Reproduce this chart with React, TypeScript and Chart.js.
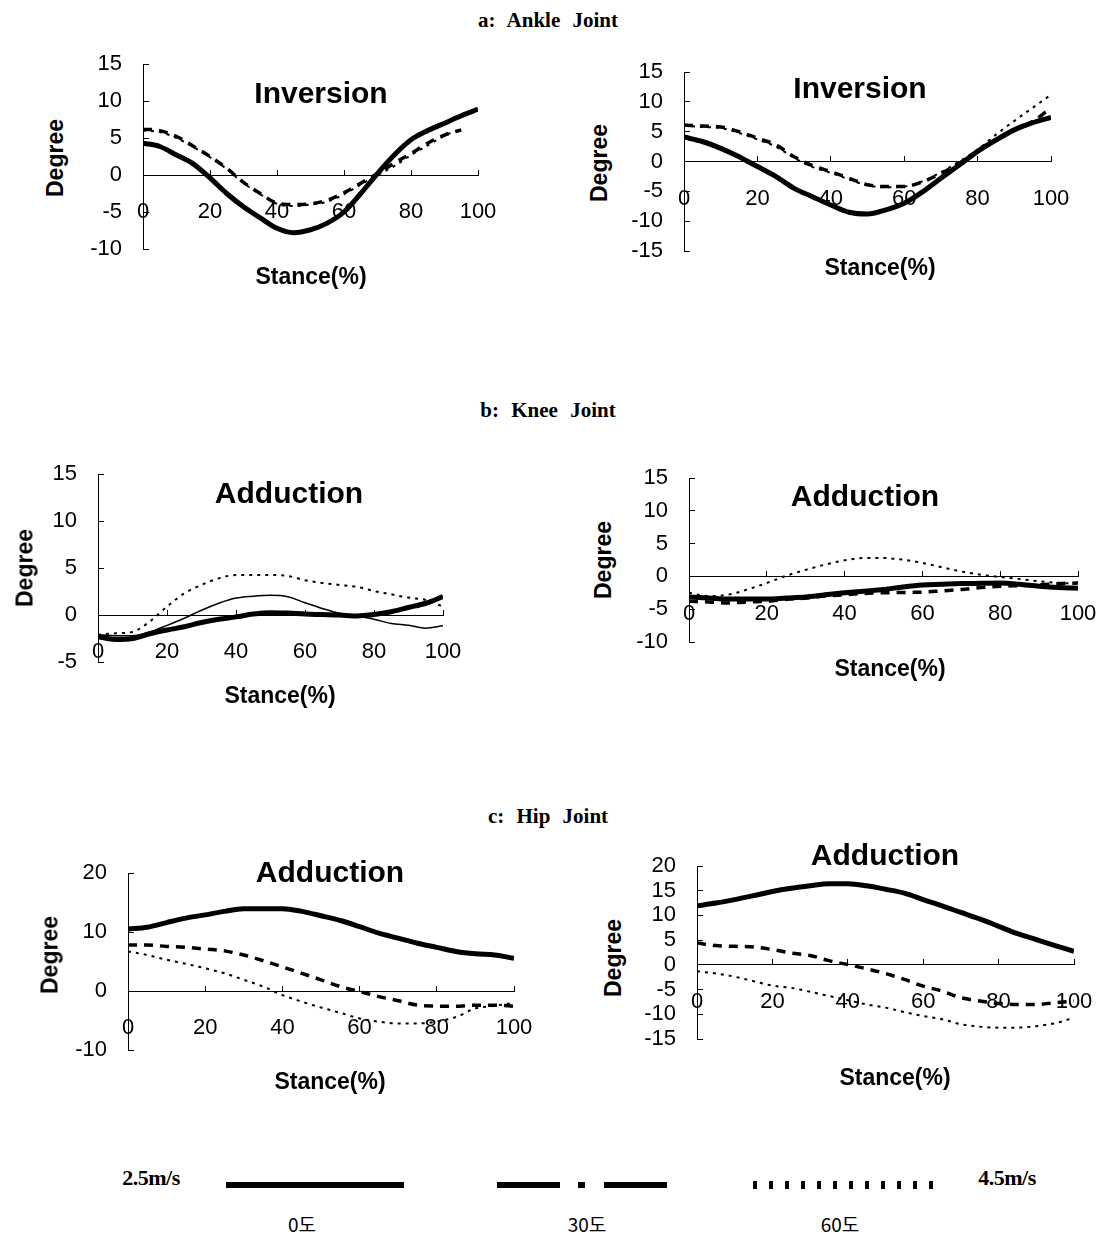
import React, { useEffect, useRef } from "react";
import { Chart, registerables } from "chart.js";

Chart.register(...registerables);

// ---------- data ----------
const STANCE = [0, 5, 10, 15, 20, 25, 30, 35, 40, 45, 50, 55, 60, 65, 70, 75, 80, 85, 90, 95, 100];
const X_TICKS = [0, 20, 40, 60, 80, 100];

const ANKLE_25_DEG0 = [4.3, 3.85, 2.7, 1.5, -0.4, -2.5, -4.3, -5.8, -7.2, -7.8, -7.4, -6.5, -5.0, -2.5, 0.2, 2.7, 4.75, 6.0, 7.0, 8.0, 8.9];
const ANKLE_25_DEG30 = [6.2, 6.0, 5.2, 3.9, 2.5, 0.9, -1.0, -2.5, -3.8, -4.0, -3.9, -3.4, -2.4, -1.1, 0.2, 1.6, 2.9, 4.3, 5.4, 6.1, null];
const ANKLE_25_DEG60 = [6.0, 5.8, 5.0, 3.8, 2.4, 0.8, -1.1, -2.6, -3.9, -4.2, -4.0, -3.6, -2.6, -1.3, 0.0, 1.2, 2.7, 4.0, 5.3, 6.2, null];

const ANKLE_45_DEG0 = [4.1, 3.35, 2.2, 0.8, -0.85, -2.5, -4.5, -5.9, -7.3, -8.5, -8.8, -8.1, -7.0, -5.1, -2.8, -0.6, 1.7, 3.6, 5.3, 6.5, 7.4];
const ANKLE_45_DEG30 = [6.1, 5.95, 5.8, 5.0, 3.9, 2.8, 0.8, -0.7, -1.7, -2.8, -3.9, -4.2, -4.2, -3.4, -2.0, -0.3, 1.7, 3.6, 5.3, 6.7, 9.0];
const ANKLE_45_DEG60 = [6.0, 5.8, 5.6, 4.8, 3.7, 2.5, 0.6, -0.9, -1.9, -3.0, -4.0, -4.3, -4.2, -3.3, -1.8, 0.0, 2.0, 4.5, 6.8, 9.0, 11.2];

const KNEE_25_DEG0 = [-2.3, -2.6, -2.5, -2.0, -1.6, -1.25, -0.8, -0.45, -0.2, 0.1, 0.25, 0.2, 0.1, 0.05, 0.0, -0.1, 0.05, 0.35, 0.8, 1.25, 1.95];
const KNEE_25_DEG30 = [-2.1, -2.2, -2.2, -1.8, -1.1, -0.35, 0.5, 1.25, 1.8, 2.0, 2.1, 1.95, 1.3, 0.7, 0.2, -0.1, -0.45, -0.9, -1.1, -1.4, -1.15];
const KNEE_25_DEG60 = [-2.1, -1.95, -1.8, -0.7, 0.9, 2.3, 3.2, 3.9, 4.25, 4.25, 4.25, 4.15, 3.7, 3.4, 3.2, 3.0, 2.55, 2.2, 1.85, 1.6, 0.9];

const KNEE_45_DEG0 = [-3.15, -3.3, -3.45, -3.45, -3.45, -3.3, -3.15, -2.8, -2.5, -2.25, -2.0, -1.6, -1.3, -1.2, -1.1, -1.05, -1.0, -1.2, -1.5, -1.7, -1.8];
const KNEE_45_DEG30 = [-3.8, -3.9, -4.05, -3.9, -3.8, -3.5, -3.3, -3.0, -2.8, -2.6, -2.5, -2.45, -2.4, -2.2, -2.0, -1.7, -1.5, -1.4, -1.3, -1.1, -1.0];
const KNEE_45_DEG60 = [-2.5, -3.0, -2.8, -2.0, -1.0, 0.1, 1.0, 1.8, 2.45, 2.8, 2.8, 2.55, 2.05, 1.4, 0.75, 0.25, -0.1, -0.4, -0.75, -1.0, -1.1];

const HIP_25_DEG0 = [10.5, 10.8, 11.6, 12.35, 12.9, 13.5, 13.95, 13.95, 13.95, 13.5, 12.75, 11.95, 10.9, 9.8, 8.95, 8.1, 7.4, 6.7, 6.3, 6.1, 5.55];
const HIP_25_DEG30 = [7.8, 7.8, 7.55, 7.4, 7.1, 6.8, 6.1, 5.15, 4.1, 3.0, 1.9, 0.75, -0.1, -0.95, -1.65, -2.4, -2.55, -2.6, -2.4, -2.4, -2.6];
const HIP_25_DEG60 = [6.7, 6.1, 5.3, 4.6, 3.85, 3.0, 1.9, 0.75, -0.7, -1.8, -2.8, -3.7, -4.65, -5.2, -5.5, -5.5, -5.2, -4.4, -2.95, -2.5, -2.0];

const HIP_45_DEG0 = [11.95, 12.5, 13.2, 14.0, 14.85, 15.5, 16.0, 16.4, 16.4, 16.0, 15.3, 14.5, 13.2, 11.95, 10.6, 9.3, 7.8, 6.3, 5.1, 3.9, 2.75];
const HIP_45_DEG30 = [4.4, 3.9, 3.75, 3.6, 3.1, 2.4, 1.9, 0.85, 0.05, -0.8, -1.75, -2.95, -4.3, -5.3, -6.65, -7.3, -7.8, -8.0, -8.0, -7.65, -7.3];
const HIP_45_DEG60 = [-1.3, -1.75, -2.4, -3.3, -4.2, -4.65, -5.45, -6.3, -7.15, -8.0, -8.65, -9.55, -10.35, -11.0, -12.0, -12.5, -12.7, -12.7, -12.4, -11.8, -10.7];

const SECTION_TITLES = ["a: Ankle Joint", "b: Knee Joint", "c: Hip Joint"];
const SPEED_LABELS = ["2.5m/s", "4.5m/s"];
const ANGLE_LABELS = ["0도", "30도", "60도"];
const Y_TITLE = "Degree";
const X_TITLE = "Stance(%)";

// ---------- layout ----------
const SANS = "'Liberation Sans', Arial, Helvetica, sans-serif";
const SERIF = "'Liberation Serif', 'Times New Roman', serif";
const Y_AXIS_W = 60;
const PAD_L = 10;
const PAD_R = 56;
const PAD_V = 46;

type Panel = {
  key: string;
  axisX: number; x100: number; yTopPx: number; yBotPx: number;
  yMin: number; yMax: number; yStep: number;
  series: (number | null)[][];
  thin30?: boolean;
  title: string; titleX: number; titleY: number;
  degX: number; degY: number; stX: number; stY: number;
};

const PANELS: Panel[] = [
  { key: "aL", axisX: 143, x100: 478, yTopPx: 64, yBotPx: 249,
    yMin: -10, yMax: 15, yStep: 5, series: [ANKLE_25_DEG0, ANKLE_25_DEG30, ANKLE_25_DEG60],
    title: "Inversion", titleX: 321, titleY: 93, degX: 55, degY: 158, stX: 311, stY: 276 },
  { key: "aR", axisX: 684, x100: 1051, yTopPx: 72, yBotPx: 251,
    yMin: -15, yMax: 15, yStep: 5, series: [ANKLE_45_DEG0, ANKLE_45_DEG30, ANKLE_45_DEG60],
    title: "Inversion", titleX: 860, titleY: 88, degX: 599, degY: 163, stX: 880, stY: 267 },
  { key: "bL", axisX: 98, x100: 443, yTopPx: 474, yBotPx: 662,
    yMin: -5, yMax: 15, yStep: 5, series: [KNEE_25_DEG0, KNEE_25_DEG30, KNEE_25_DEG60], thin30: true,
    title: "Adduction", titleX: 289, titleY: 493, degX: 25, degY: 568, stX: 280, stY: 695 },
  { key: "bR", axisX: 689, x100: 1078, yTopPx: 478, yBotPx: 642,
    yMin: -10, yMax: 15, yStep: 5, series: [KNEE_45_DEG0, KNEE_45_DEG30, KNEE_45_DEG60],
    title: "Adduction", titleX: 865, titleY: 496, degX: 603, degY: 560, stX: 890, stY: 668 },
  { key: "cL", axisX: 128, x100: 514, yTopPx: 873, yBotPx: 1050,
    yMin: -10, yMax: 20, yStep: 10, series: [HIP_25_DEG0, HIP_25_DEG30, HIP_25_DEG60],
    title: "Adduction", titleX: 330, titleY: 872, degX: 50, degY: 955, stX: 330, stY: 1081 },
  { key: "cR", axisX: 697, x100: 1074, yTopPx: 866, yBotPx: 1039,
    yMin: -15, yMax: 20, yStep: 5, series: [HIP_45_DEG0, HIP_45_DEG30, HIP_45_DEG60],
    title: "Adduction", titleX: 885, titleY: 855, degX: 613, degY: 958, stX: 895, stY: 1077 },
];

function PanelChart({ p }: { p: Panel }) {
  const ref = useRef<HTMLCanvasElement | null>(null);
  const left = p.axisX - Y_AXIS_W - PAD_L;
  const top = p.yTopPx - PAD_V;
  const width = p.x100 + PAD_R - left;
  const height = p.yBotPx + PAD_V - top;
  useEffect(() => {
    if (!ref.current) return;
    const styles = [
      { borderWidth: 5, borderDash: [] as number[] },
      p.thin30 ? { borderWidth: 1.5, borderDash: [] as number[] } : { borderWidth: 3.5, borderDash: [9, 7] },
      { borderWidth: 2, borderDash: [3, 5] },
    ];
    const chart = new Chart(ref.current, {
      type: "line",
      data: {
        datasets: p.series.map((arr, i) => ({
          label: ANGLE_LABELS[i],
          data: STANCE.map((x, j) => ({ x, y: arr[j] as any })),
          borderColor: "#000",
          backgroundColor: "#000",
          borderWidth: styles[i].borderWidth,
          borderDash: styles[i].borderDash,
          borderCapStyle: "butt",
          pointRadius: 0,
          fill: false,
          cubicInterpolationMode: "monotone",
          spanGaps: false,
        })),
      },
      options: {
        animation: false,
        responsive: false,
        maintainAspectRatio: false,
        layout: { padding: { left: PAD_L, right: PAD_R, top: PAD_V, bottom: PAD_V } },
        plugins: { legend: { display: false }, tooltip: { enabled: false }, title: { display: false } },
        scales: {
          x: {
            type: "linear",
            position: { y: 0 } as any,
            min: 0,
            max: 100,
            afterBuildTicks: (s: any) => { s.ticks = X_TICKS.map((v) => ({ value: v })); },
            ticks: { color: "#000", font: { family: SANS, size: 22 }, padding: 30, maxRotation: 0, autoSkip: false },
            grid: { drawOnChartArea: false, drawTicks: true, tickLength: -6, color: "#000", lineWidth: 1 },
            border: { display: true, color: "#000", width: 1 },
          },
          y: {
            type: "linear",
            position: "left",
            min: p.yMin,
            max: p.yMax,
            ticks: { stepSize: p.yStep, color: "#000", font: { family: SANS, size: 22 }, padding: 27, autoSkip: false },
            grid: { drawOnChartArea: false, drawTicks: true, tickLength: -6, color: "#000", lineWidth: 1 },
            border: { display: true, color: "#000", width: 1 },
            afterFit: (s: any) => { s.width = Y_AXIS_W; },
          },
        },
      } as any,
    });
    return () => chart.destroy();
  }, [p]);
  return (
    <canvas
      ref={ref}
      width={width}
      height={height}
      style={{ position: "absolute", left, top, width, height }}
    />
  );
}

function Text({ x, y, children, style }: { x: number; y: number; children: React.ReactNode; style?: React.CSSProperties }) {
  return (
    <div
      style={{
        position: "absolute", left: x, top: y, transform: "translate(-50%, -50%)",
        whiteSpace: "nowrap", lineHeight: 1, color: "#000", ...style,
      }}
    >
      {children}
    </div>
  );
}

const SECTION_Y = [20, 410, 816];
const KO = "'Noto Sans CJK KR', sans-serif";

export default function App() {
  return (
    <div style={{ position: "absolute", left: 0, top: 0, width: 1109, height: 1234, background: "#fff", overflow: "hidden" }}>
      {SECTION_TITLES.map((t, i) => (
        <Text key={t} x={548} y={SECTION_Y[i]} style={{ fontFamily: SERIF, fontWeight: 700, fontSize: 21, wordSpacing: 7 }}>{t}</Text>
      ))}
      {PANELS.map((p) => (
        <React.Fragment key={p.key}>
          <PanelChart p={p} />
          <Text x={p.titleX} y={p.titleY} style={{ fontFamily: SANS, fontWeight: 700, fontSize: 30 }}>{p.title}</Text>
          <Text x={p.stX} y={p.stY} style={{ fontFamily: SANS, fontWeight: 700, fontSize: 23 }}>{X_TITLE}</Text>
          <Text x={p.degX} y={p.degY} style={{ fontFamily: SANS, fontWeight: 700, fontSize: 23, transform: "translate(-50%, -50%) rotate(-90deg)" }}>{Y_TITLE}</Text>
        </React.Fragment>
      ))}
      {/* legend */}
      <Text x={151} y={1178} style={{ fontFamily: SERIF, fontWeight: 700, fontSize: 22, letterSpacing: -0.5 }}>{SPEED_LABELS[0]}</Text>
      <Text x={1007} y={1178} style={{ fontFamily: SERIF, fontWeight: 700, fontSize: 22, letterSpacing: -0.5 }}>{SPEED_LABELS[1]}</Text>
      <div style={{ position: "absolute", left: 226, top: 1182, width: 178, height: 6, background: "#000" }} />
      <div style={{ position: "absolute", left: 497, top: 1182, width: 63, height: 6, background: "#000" }} />
      <div style={{ position: "absolute", left: 578, top: 1182, width: 7, height: 6, background: "#000" }} />
      <div style={{ position: "absolute", left: 604, top: 1182, width: 63, height: 6, background: "#000" }} />
      <div
        style={{
          position: "absolute", left: 753, top: 1181, width: 180, height: 8,
          backgroundImage: "repeating-linear-gradient(to right, #000 0px, #000 4px, transparent 4px, transparent 16px)",
        }}
      />
      <Text x={302} y={1223} style={{ fontFamily: KO, fontSize: 19 }}>{ANGLE_LABELS[0]}</Text>
      <Text x={587} y={1223} style={{ fontFamily: KO, fontSize: 19 }}>{ANGLE_LABELS[1]}</Text>
      <Text x={840} y={1223} style={{ fontFamily: KO, fontSize: 19 }}>{ANGLE_LABELS[2]}</Text>
    </div>
  );
}
